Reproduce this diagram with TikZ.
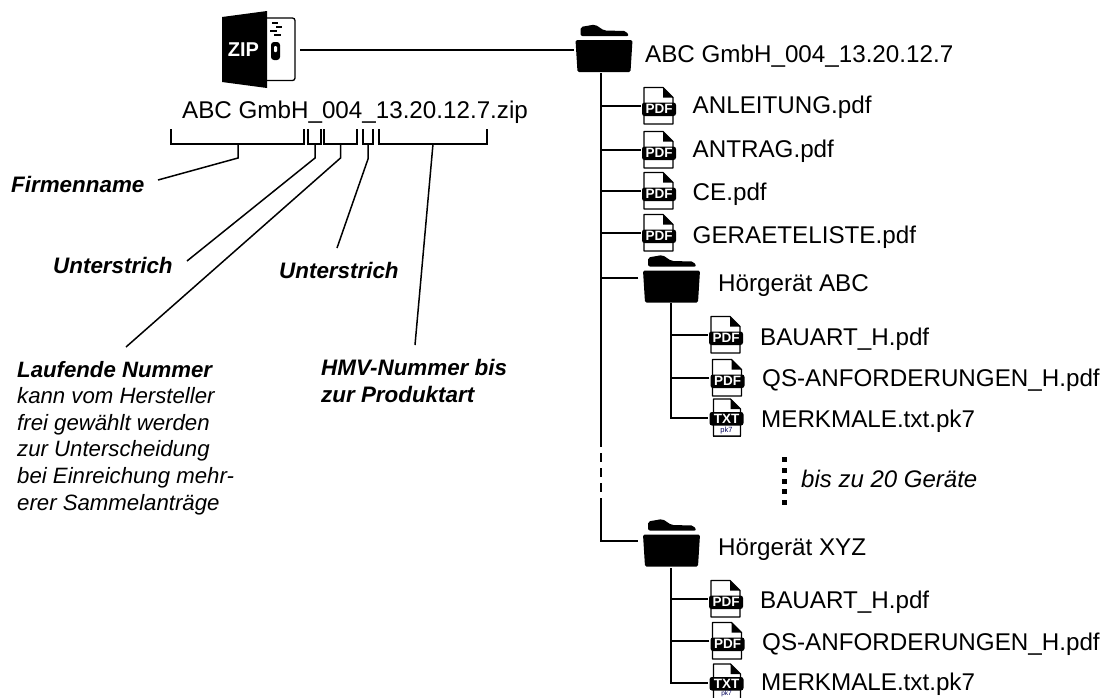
\documentclass[tikz,border=0pt]{standalone}
\usepackage{fontspec}
\setmainfont{Liberation Sans}
\tikzset{
  x=1pt,y=-1pt,
  conn/.style={line width=1.5pt,black},
  lbl/.style={anchor=base west,inner sep=0pt,font=\fontsize{24.2}{28}\selectfont},
  noteb/.style={anchor=base west,inner sep=0pt,align=left,font=\fontsize{22.4}{27}\selectfont\bfseries\itshape},
  note/.style={anchor=base west,inner sep=0pt,align=left,font=\fontsize{22.2}{26.6}\selectfont\itshape},
  iconbox/.style={inner sep=0pt,minimum width=#1,minimum height=10pt},
  folder/.pic={
    \fill[rounded corners=1.5pt] (-28.5,-16) -- (28.5,-16) -- (26.5,16) -- (-26.5,16) -- cycle;
    \fill[rounded corners=2pt] (-23.5,-20) -- (-23.5,-29) -- (-9,-31.5) -- (0,-25.5) -- (22,-25) -- (25,-20) -- cycle;
  },
  pdfic/.pic={
    \draw[line width=1.3pt,line join=round,fill=white] (-15,18) -- (-15,-18.5) -- (4,-18.5) -- (14,-8.5) -- (14,18) -- cycle;
    \fill (4,-18.5) -- (14,-8.5) -- (4,-8.5) -- cycle;
    \fill[rounded corners=2.5pt] (-17,-3.5) rectangle (17,10);
    \node[white,inner sep=0pt,font=\fontsize{13.5}{14}\selectfont\bfseries] at (0,3.3) {PDF};
  },
  txtic/.pic={
    \draw[line width=1.3pt,line join=round,fill=white] (-13,18) -- (-13,-19) -- (4,-19) -- (14,-9) -- (14,18) -- cycle;
    \fill (4,-19) -- (14,-9) -- (4,-9) -- cycle;
    \fill[rounded corners=2.5pt] (-17,-6) rectangle (17,7.5);
    \node[white,inner sep=0pt,font=\fontsize{13.5}{14}\selectfont\bfseries] at (0,0.8) {TXT};
  },
  pktxt/.style={text=black!65!blue,inner sep=0pt,font=\fontsize{7.5}{8}\selectfont},
}
\begin{document}
\begin{tikzpicture}
\useasboundingbox (0,0) rectangle (1108,697);
% zip icon
\node[iconbox=78pt] (zip) at (261,50) {};
\draw[line width=1.3pt,rounded corners=2.5pt] (267,18) -- (295,18) -- (295,80.5) -- (267,80.5);
\fill (222,17) -- (267,11) -- (267,88) -- (222,82) -- cycle;
\node[white,inner sep=0pt,font=\fontsize{20}{20}\selectfont\bfseries] (ziptxt) at (243.5,50) {ZIP};
\foreach \y/\a/\b in {23/272/278,27/276/282,31/270/277,35/274/281}{\draw[line width=1.2pt] (\a,\y) -- (\b,\y);}
\fill[rounded corners=3pt] (271,42) rectangle (280,60);
\fill[white,rounded corners=1pt] (274,46) rectangle (277,52);
% file name
\node[lbl] (zipname) at (182,118) {ABC GmbH\_004\_13.20.12.7.zip};
% brackets
\foreach \a/\b/\n in {171/304/1,308/321/2,324/357/3,363/373/4,379/487/5}{
  \coordinate (bl\n) at (\a,129); \coordinate (br\n) at (\b,129);
  \draw[conn,line join=miter] (bl\n) -- ++(0,15) -| (br\n);
}
\coordinate (s1) at (238,144); \coordinate (k1) at (238,158); \coordinate (n1) at (158,180);
\coordinate (s2) at (315,144); \coordinate (k2) at (315,158); \coordinate (n2) at (187,261);
\coordinate (s3) at (340.5,144); \coordinate (k3) at (340.5,158); \coordinate (n3) at (126,347);
\coordinate (s4) at (368,144); \coordinate (k4) at (368,159); \coordinate (n4) at (337,248);
\coordinate (s5) at (433,144); \coordinate (n5) at (415,345);
\draw[conn] (s1) -- (k1) -- (n1);
\draw[conn] (s2) -- (k2) -- (n2);
\draw[conn] (s3) -- (k3) -- (n3);
\draw[conn] (s4) -- (k4) -- (n4);
\draw[conn] (s5) -- (n5);
% left labels
\node[noteb] (firma) at (11,192) {Firmenname};
\node[noteb] (u1) at (53,273) {Unterstrich};
\node[noteb] (u2) at (279,278) {Unterstrich};
\node[note] (lfd) at (17,510) {\textbf{Laufende Nummer}\\kann vom Hersteller\\frei gewählt werden\\zur Unterscheidung\\bei Einreichung mehr-\\erer Sammelanträge};
\node[noteb] (hmv) at (321,402) {HMV-Nummer bis\\zur Produktart};
% root folder
\pic at (604,56) {folder};
\node[iconbox=60pt] (f0) at (604,50) {};
\node[lbl] (f0t) at (645,62) {ABC GmbH\_004\_13.20.12.7};
\draw[conn] (zip.east) -- (f0.west);
% root files
\foreach \n/\y/\by/\t in {a/106/113/ANLEITUNG.pdf,b/150/157/ANTRAG.pdf,c/191/200.5/CE.pdf,d/233/243/GERAETELISTE.pdf}{
  \pic at (659,\y) {pdfic};
  \node[iconbox=36pt] (\n) at (659,\y) {};
  \node[lbl] (\n t) at (692.5,\by) {\t};
}
% device folders
\pic at (671.5,286.5) {folder};
\node[iconbox=66pt] (f1) at (671.5,278) {};
\node[lbl] (f1t) at (718,291) {Hörgerät ABC};
\pic at (671.5,550.5) {folder};
\node[iconbox=66pt] (f2) at (671.5,541) {};
\node[lbl] (f2t) at (718,555) {Hörgerät XYZ};
% device ABC files
\pic at (726,335) {pdfic}; \node[iconbox=36pt] (g) at (726,335) {};
\node[lbl] (gt) at (760,345) {BAUART\_H.pdf};
\pic at (727.5,378) {pdfic}; \node[iconbox=36pt] (h) at (727.5,378) {};
\node[lbl] (ht) at (762,386) {QS-ANFORDERUNGEN\_H.pdf};
\draw[line width=1pt] (713,425) -- (713,436) -- (740,436) -- (740,425);
\pic at (726.5,418) {txtic}; \node[iconbox=36pt] (i) at (726.5,418) {};
\node[pktxt] (ip) at (726.5,431) {pk7};
\node[lbl] (it) at (761,427) {MERKMALE.txt.pk7};
% device XYZ files
\pic at (726,599) {pdfic}; \node[iconbox=36pt] (p) at (726,599) {};
\node[lbl] (pt) at (760,608) {BAUART\_H.pdf};
\pic at (727.5,641) {pdfic}; \node[iconbox=36pt] (q) at (727.5,641) {};
\node[lbl] (qt) at (762,650) {QS-ANFORDERUNGEN\_H.pdf};
\draw[line width=1pt] (713,690) -- (713,699) -- (740,699) -- (740,690);
\pic at (726.5,683) {txtic}; \node[iconbox=36pt] (r) at (726.5,683) {};
\node[pktxt,font=\fontsize{6.5}{7}\selectfont] (rp) at (726.5,693.7) {pk7};
\node[lbl] (rt) at (761,690) {MERKMALE.txt.pk7};
% trunks
\coordinate (t0) at (601,73); \coordinate (t0a) at (601,447);
\coordinate (t0c) at (601,453); \coordinate (t0d) at (601,492);
\coordinate (t0e) at (601,498);
\draw[conn] (t0) -- (t0a);
\draw[conn,dash pattern=on 9pt off 6pt] (t0c) -- (t0d);
\draw[conn] (t0e) |- (f2.west);
\foreach \n in {a,b,c,d,f1}{\draw[conn] (\n.west) -- (\n.west -| t0);}
\coordinate (t1) at (671,303); \coordinate (t2) at (671,568);
\draw[conn] (t1) |- (i.west);
\draw[conn] (g.west) -- (g.west -| t1);
\draw[conn] (h.west) -- (h.west -| t1);
\draw[conn] (t2) |- (r.west);
\draw[conn] (p.west) -- (p.west -| t2);
\draw[conn] (q.west) -- (q.west -| t2);
% more devices
\foreach \y in {459,470,481,491.5,502}{\fill (781.5,\y-2.5) rectangle (786.5,\y+2.5);}
\node[note,font=\fontsize{24}{28}\selectfont\itshape] (more) at (801,487) {bis zu 20 Geräte};
\end{tikzpicture}
\end{document}
